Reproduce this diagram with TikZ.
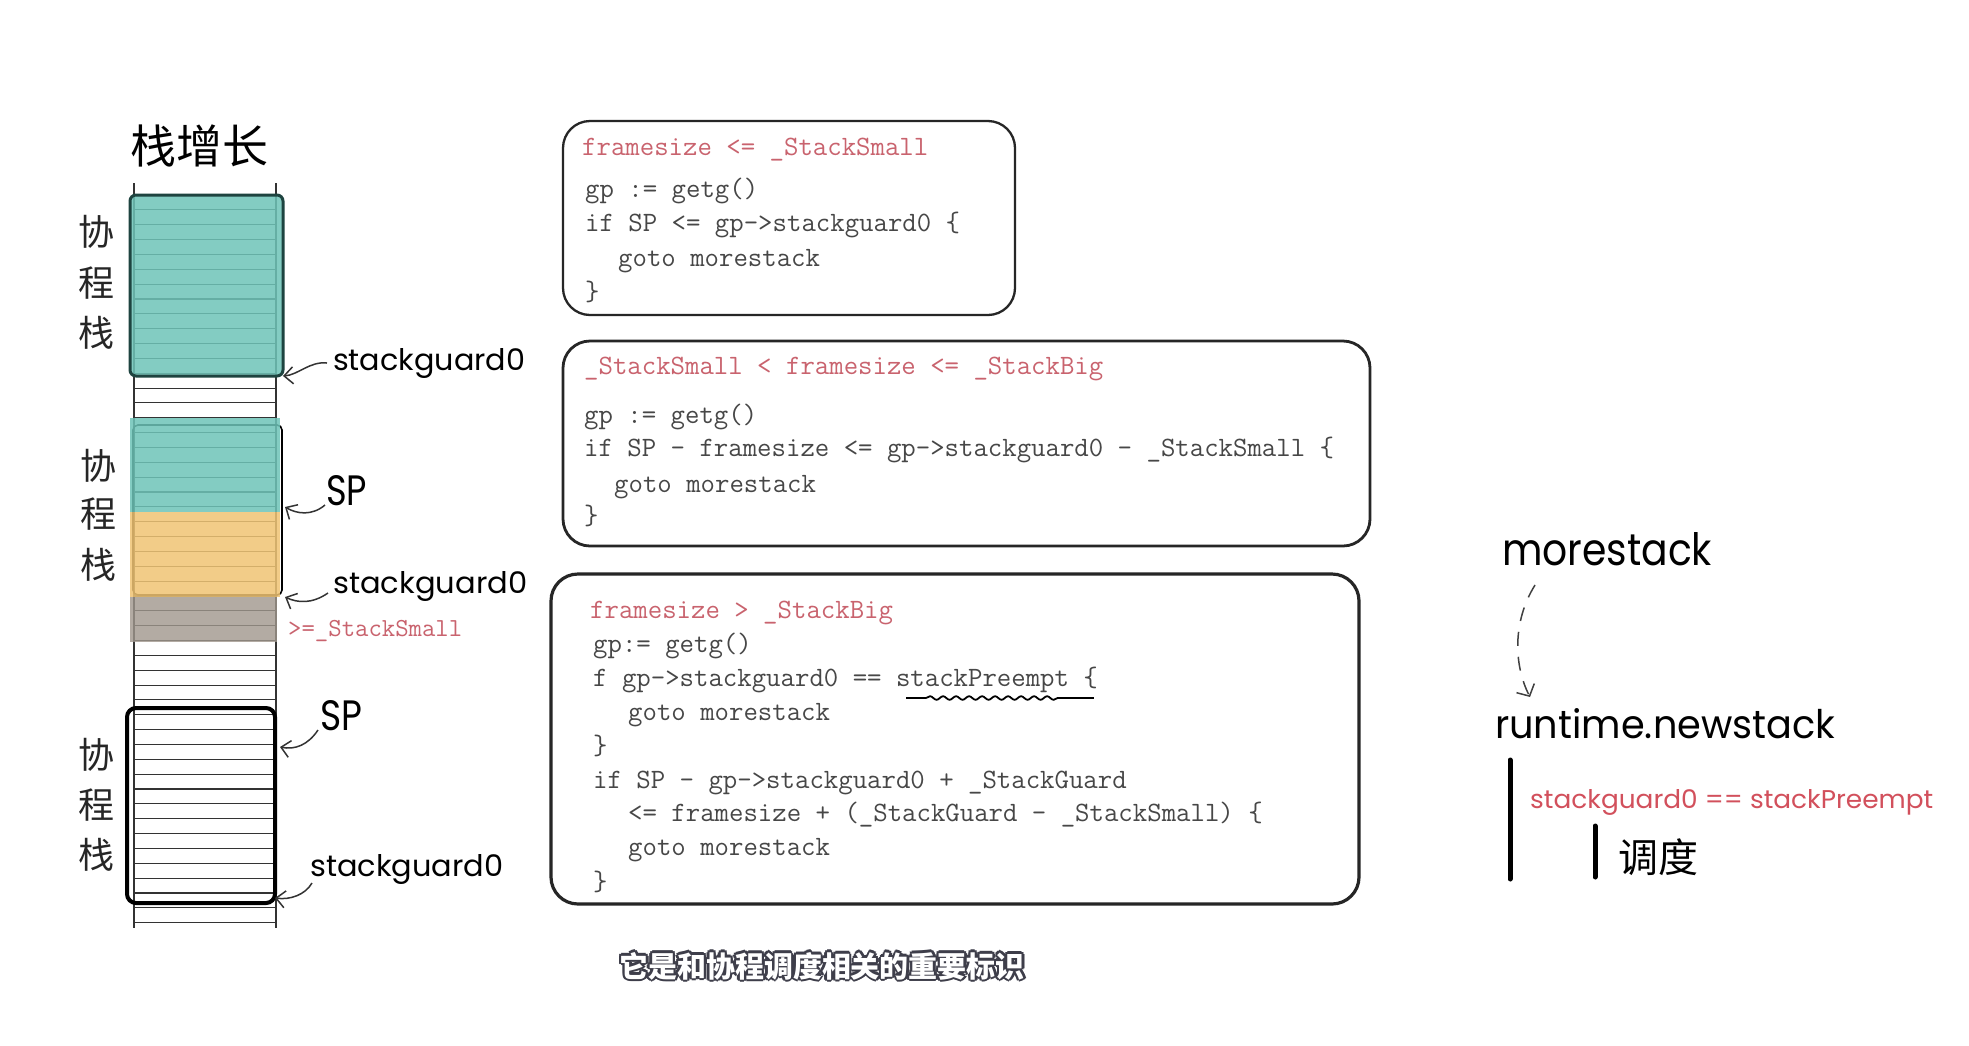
\documentclass[tikz,border=0pt]{standalone}
\usepackage{fontspec}
\usetikzlibrary{arrows.meta,decorations.pathmorphing,calc}
\newfontfamily\cjk{Noto Sans CJK SC}
\newfontfamily\hand{Poppins}
\definecolor{tealfill}{HTML}{6EC4B8}
\definecolor{tealline}{HTML}{1E4440}
\definecolor{orangefill}{HTML}{F0C474}
\definecolor{grayfill}{HTML}{A0978D}
\definecolor{pinkc}{HTML}{C9636E}
\definecolor{pinkr}{HTML}{D2505C}
\definecolor{codegray}{HTML}{474747}
\definecolor{subdark}{HTML}{3E3E4A}
\newcommand{\hw}[3]{\resizebox{#1pt}{#2pt}{#3}}
\newcommand{\subtxt}{\resizebox{405pt}{!}{它是和协程调度相关的重要标识}}
\tikzset{
  code/.style={anchor=base west, inner sep=0pt, font=\ttfamily\fontsize{28}{34}\selectfont, text=codegray},
  pinkcode/.style={code, text=pinkc},
  hlabel/.style={anchor=base west, inner sep=0pt, font=\hand, text=black},
  cjkv/.style={inner sep=0pt, font=\cjk\fontsize{36}{40}\selectfont, text=black!85},
  codebox/.style={draw=black!85, line width=2.8pt, rounded corners=27pt},
  gridl/.style={draw=black!80, line width=1.1pt},
  lblarrow/.style={draw=black!80, line width=1.5pt, -{Straight Barb[length=9pt,width=17pt,line width=1.5pt]}},
  dasharrow/.style={draw=black!75, line width=1.5pt, dash pattern=on 14pt off 11pt, -{Straight Barb[length=9pt,width=20pt,line width=1.5pt]}},
  thickbar/.style={draw=black, line width=5pt, line cap=round},
  subfont/.style={inner sep=0pt, font=\cjk\bfseries\fontsize{34}{40}\selectfont}
}
\begin{document}
\begin{tikzpicture}[x=1pt,y=-1pt]
\useasboundingbox (0,0) rectangle (1969,1045);
\fill[white] (0,0) rectangle (1969,1045);

% ---------- stack column ----------
\foreach \k in {1,...,49} \draw[gridl] (134,{195+14.85*\k}) -- (276,{195+14.85*\k});
\draw[gridl] (134,183) -- (134,928);
\draw[gridl] (276,183) -- (276,928);

% first goroutine stack (teal)
\fill[tealfill, fill opacity=0.85, rounded corners=6pt] (130,195) rectangle (283,376);
\draw[tealline, line width=3pt, rounded corners=6pt] (130,195) rectangle (283,376);

% second goroutine stack
\draw[black, line width=1.6pt, rounded corners=5pt] (133,425) rectangle (282,595);
\fill[tealfill, fill opacity=0.85] (130,418) rectangle (280,512);
\fill[orangefill, fill opacity=0.85] (130,512) rectangle (280,597);
\fill[grayfill, fill opacity=0.8] (130,597) rectangle (277,642);

% third goroutine stack
\draw[black, line width=4pt, rounded corners=9pt] (127,708) rectangle (275,903);

% title and vertical labels
\node[inner sep=0pt, font=\cjk\fontsize{46}{50}\selectfont] (title) at (199,146) {栈增长};
\node[cjkv] (a1) at (96,232) {协};
\node[cjkv] (a2) at (96,283) {程};
\node[cjkv] (a3) at (96,333) {栈};
\node[cjkv] (b1) at (98,466) {协};
\node[cjkv] (b2) at (98,514) {程};
\node[cjkv] (b3) at (98,565) {栈};
\node[cjkv] (c1) at (96,755) {协};
\node[cjkv] (c2) at (96,805) {程};
\node[cjkv] (c3) at (96,855) {栈};

% labels beside the stack
\node[hlabel] (sg1) at (333,370) {\hw{192}{22}{stackguard0}};
\node[hlabel] (sp2) at (326,505) {\hw{41}{30}{SP}};
\node[hlabel] (sg2) at (333,593) {\hw{194}{22}{stackguard0}};
\node[anchor=base west, inner sep=0pt, font=\ttfamily\fontsize{26}{30}\selectfont, text=pinkc] (ss) at (288,636) {>=\_StackSmall};
\node[hlabel] (sp3) at (320,730) {\hw{42}{30}{SP}};
\node[hlabel] (sg3) at (310,876) {\hw{193}{22}{stackguard0}};

\coordinate (t1) at (283,376);
\coordinate (t2) at (285,507);
\coordinate (t3) at (285,597);
\coordinate (t4) at (280,747);
\coordinate (t5) at (275,898);
\draw[lblarrow] ([xshift=-6pt]sg1.west) .. controls (310,361) and (298,375) .. (t1);
\draw[lblarrow] ([xshift=-1pt]sp2.base west) .. controls (312,516) and (297,514) .. (t2);
\draw[lblarrow] ([xshift=-5pt]sg2.base west) .. controls (312,604) and (298,603) .. (t3);
\draw[lblarrow] ([xshift=-2pt]sp3.base west) .. controls (308,745) and (295,750) .. (t4);
\draw[lblarrow] ([xshift=2pt,yshift=-7pt]sg3.base west) .. controls (305,895) and (290,900) .. (t5);

% ---------- code boxes ----------
\draw[codebox, line width=2.3pt] (563,121) rectangle (1015,315);
\node[pinkcode] (b1l0) at (582,155) {framesize <= \_StackSmall};
\node[code] (b1l1) at (585,197) {gp := getg()};
\node[code] (b1l2) at (585,231) {if SP <= gp->stackguard0 \{};
\node[code] (b1l3) at (618,266) {goto morestack};
\node[code] (b1l4) at (585,300) {\}};

\draw[codebox] (563,341) rectangle (1370,546);
\node[pinkcode] (b2l0) at (584,374) {\_StackSmall < framesize <= \_StackBig};
\node[code] (b2l1) at (584,423) {gp := getg()};
\node[code] (b2l2) at (584,456) {if SP - framesize <= gp->stackguard0 - \_StackSmall \{};
\node[code] (b2l3) at (614,492) {goto morestack};
\node[code] (b2l4) at (584,524) {\}};

\draw[codebox, line width=3.2pt] (551,574) rectangle (1359,904);
\node[pinkcode] (b3l0) at (590,618) {framesize > \_StackBig};
\node[code] (b3l1) at (593,652) {gp:= getg()};
\node[code] (b3l2) at (593,686) {f gp->stackguard0 == stackPreempt \{};
\node[code] (b3l3) at (628,720) {goto morestack};
\node[code] (b3l4) at (593,754) {\}};
\node[code] (b3l5) at (593,788) {if SP - gp->stackguard0 + \_StackGuard};
\node[code] (b3l6) at (628,821) {<= framesize + (\_StackGuard - \_StackSmall) \{};
\node[code] (b3l7) at (628,855) {goto morestack};
\node[code] (b3l8) at (593,890) {\}};
% wavy underline
\draw[black, line width=1.8pt] (906,698) -- (926,698);
\draw[black, line width=1.8pt, decorate, decoration={snake, amplitude=1.8pt, segment length=13pt}] (926,698) -- (1062,698);
\draw[black, line width=1.8pt] (1062,698) -- (1094,698);

% ---------- right side ----------
\node[hlabel] (ms) at (1502,565) {\hw{210}{33}{morestack}};
\node[hlabel] (rn) at (1495,738) {\hw{340}{30}{runtime.newstack}};
\draw[dasharrow] ([xshift=33pt,yshift=-20pt]ms.base west) .. controls (1512,622) and (1514,666) .. ([xshift=35pt,yshift=41pt]rn.base west);
\draw[thickbar] (1510,760) -- (1510,879);
\node[hlabel, text=pinkr] (sgp) at (1530,808) {\hw{403}{19}{stackguard0 == stackPreempt}};
\draw[thickbar] (1595,826) -- (1595,877);
\node[inner sep=0pt, font=\cjk\fontsize{40}{44}\selectfont] (sched) at (1658,857) {调度};

% ---------- subtitle ----------
\foreach \dx/\dy [count=\i] in {2.5/0,-2.5/0,0/2.5,0/-2.5,1.8/1.8,-1.8/1.8,1.8/-1.8,-1.8/-1.8}
  \node[subfont, text=subdark] (subs\i) at ({822+\dx},{966+\dy}) {\subtxt};
\node[subfont, text=white] (sub) at (822,966) {\subtxt};
\end{tikzpicture}
\end{document}
